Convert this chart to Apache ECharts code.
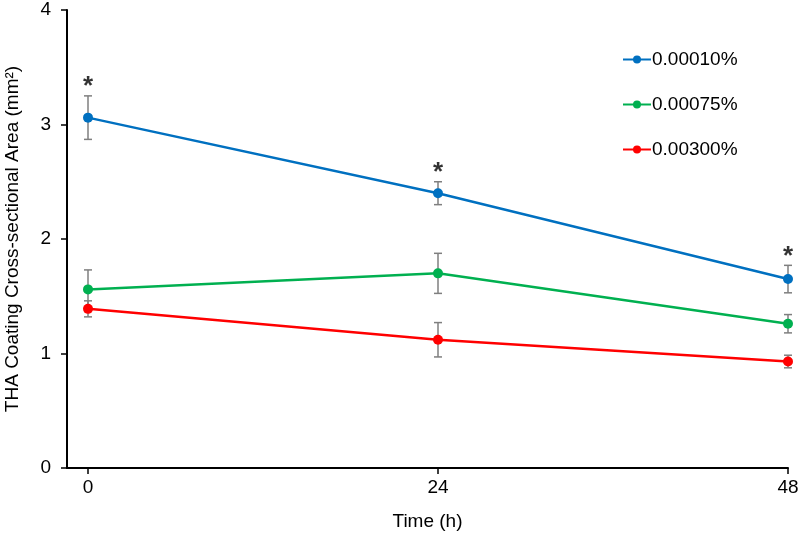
<!DOCTYPE html>
<html><head><meta charset="utf-8">
<script src="https://cdn.jsdelivr.net/npm/echarts@6/dist/echarts.min.js"></script>
<style>html,body{margin:0;padding:0;background:#fff}#c{width:800px;height:537px}</style>
</head><body><div id="c"></div>
<script>
const times = [0, 24, 48];
const seriesNames = ['0.00010%', '0.00075%', '0.00300%'];
const meanLow = [3.06, 2.40, 1.65];
const errLow = [0.19, 0.10, 0.12];
const meanMid = [1.56, 1.70, 1.26];
const errMid = [0.17, 0.175, 0.08];
const meanHigh = [1.39, 1.12, 0.93];
const errHigh = [0.07, 0.15, 0.055];
const starTimes = [0, 24, 48];
const starLabel = '*';
const xTicks = [0, 24, 48];
const colors = ['#0070C0', '#00B050', '#FF0000'];
const font = '"Liberation Sans", Arial, sans-serif';

const means = [meanLow, meanMid, meanHigh];
const errs = [errLow, errMid, errHigh];

const chart = echarts.init(document.getElementById('c'));

function errSeries(m, e) {
  return {
    type: 'custom',
    silent: true,
    z: 3,
    data: times.map((t, i) => [t, m[i] - e[i], m[i] + e[i]]),
    renderItem: function (params, api) {
      const x = api.value(0);
      const lo = api.coord([x, api.value(1)]);
      const hi = api.coord([x, api.value(2)]);
      const w = 4;
      const st = { stroke: '#7f7f7f', lineWidth: 1.5 };
      return { type: 'group', children: [
        { type: 'line', shape: { x1: lo[0], y1: lo[1], x2: hi[0], y2: hi[1] }, style: st },
        { type: 'line', shape: { x1: lo[0] - w, y1: lo[1], x2: lo[0] + w, y2: lo[1] }, style: st },
        { type: 'line', shape: { x1: hi[0] - w, y1: hi[1], x2: hi[0] + w, y2: hi[1] }, style: st }
      ]};
    }
  };
}

const series = [];
means.forEach((m, k) => {
  series.push({
    name: seriesNames[k], type: 'line', z: 5,
    data: times.map((t, i) => [t, m[i]]),
    symbol: 'circle', symbolSize: 10,
    lineStyle: { width: 2.5, color: colors[k] },
    itemStyle: { color: colors[k] }
  });
});
means.forEach((m, k) => series.push(errSeries(m, errs[k])));
series.push({
  type: 'scatter', silent: true, symbolSize: 0,
  data: starTimes.map((t) => { const i = times.indexOf(t); return [t, meanLow[i] + errLow[i]]; }),
  label: { show: true, position: 'top', distance: 0, formatter: starLabel, fontSize: 26, fontWeight: 'bold', color: '#000', fontFamily: font, offset: [0, 4] }
});

chart.setOption({
  animation: false,
  backgroundColor: '#fff',
  grid: { left: 67, right: 12, top: 10, bottom: 69, outerBoundsMode: 'none', containLabel: false },
  legend: {
    data: seriesNames, orient: 'vertical', left: 617, top: 45, itemGap: 26,
    itemWidth: 28, itemHeight: 10,
    textStyle: { fontSize: 19, fontFamily: font, color: '#000', padding: [0, 0, 0, -4] }
  },
  xAxis: {
    type: 'value', min: -1.44, max: 48,
    name: 'Time (h)', nameLocation: 'middle', nameGap: 44,
    nameTextStyle: { fontSize: 19, fontFamily: font, color: '#000' },
    axisLine: { onZero: false, lineStyle: { color: '#000', width: 2 } },
    axisTick: { show: true, length: 6, lineStyle: { color: '#000', width: 1.5 }, customValues: xTicks },
    axisLabel: { fontSize: 19, fontFamily: font, color: '#000', margin: 10, customValues: xTicks },
    splitLine: { show: false }
  },
  yAxis: {
    type: 'value', min: 0, max: 4, interval: 1,
    name: 'THA Coating Cross-sectional Area (mm²)', nameLocation: 'middle', nameGap: 45,
    nameTextStyle: { fontSize: 19, fontFamily: font, color: '#000' },
    axisLine: { show: true, onZero: false, lineStyle: { color: '#000', width: 2 } },
    axisTick: { show: true, length: 6, lineStyle: { color: '#000', width: 1.5 } },
    axisLabel: { fontSize: 19, fontFamily: font, color: '#000', margin: 16 },
    splitLine: { show: false }
  },
  series: series
});
</script></body></html>
